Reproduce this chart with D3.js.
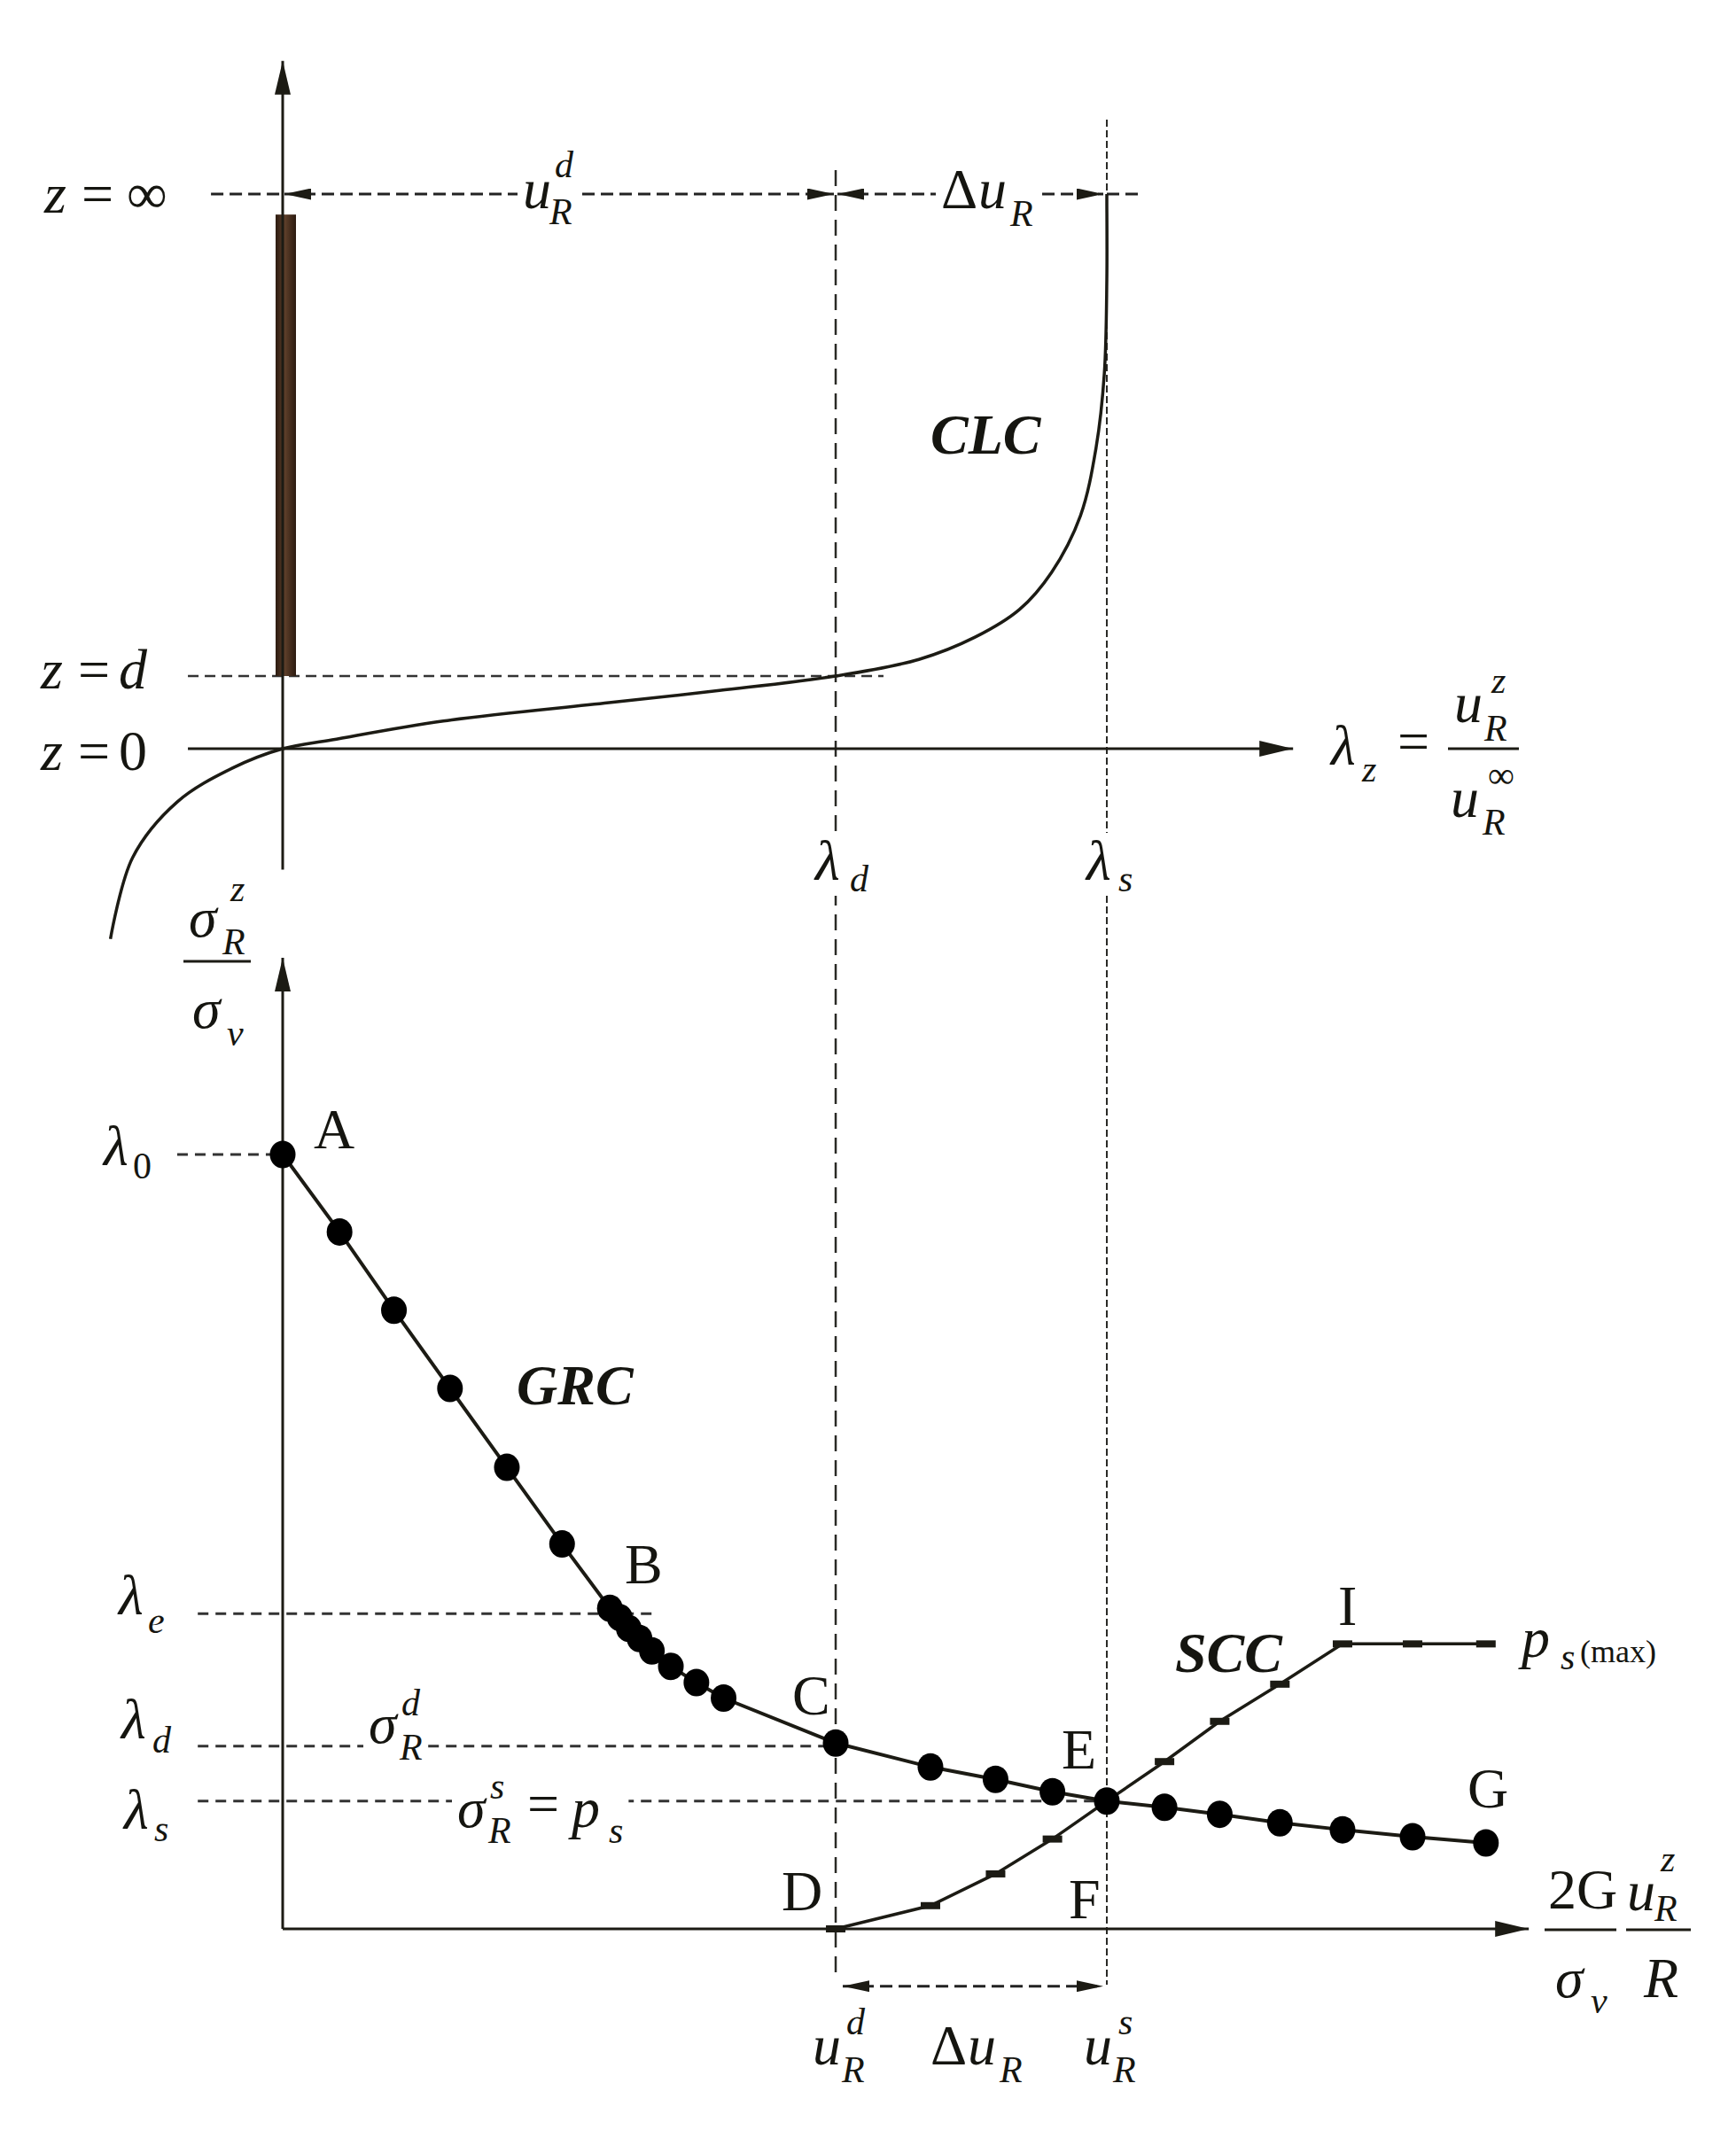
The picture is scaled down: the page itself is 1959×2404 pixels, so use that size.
<!DOCTYPE html>
<html lang="en">
<head>
<meta charset="UTF-8">
<title>CLC - GRC - SCC</title>
<style>
  body { margin: 0; background: #fff; }
  svg { display: block; }
  text { font-family: "Liberation Serif", "Times New Roman", serif; fill: #151510; }
</style>
</head>
<body>
<svg id="chart"></svg>
<script src="https://cdnjs.cloudflare.com/ajax/libs/d3/7.8.5/d3.min.js"></script>
<script>
// ---- values (normalised units) ----
// upper panel: convergence curve, lambda_z against depth z
const clcLambda = [-0.209, -0.182, -0.128, -0.061, 0, 0.060, 0.195, 0.396, 0.530, 0.671, 0.772, 0.840, 0.894, 0.933, 0.968, 0.987, 0.997, 1.0, 1.0, 1.0];
const clcZ      = [-0.343, -0.196, -0.096, -0.035, 0, 0.016, 0.050, 0.083, 0.105, 0.131, 0.161, 0.201, 0.251, 0.318, 0.420, 0.543, 0.677, 0.845, 0.990, 1.0];
const zLevels = [1.0, 0.131, 0];          // z = inf, z = d, z = 0
const zNames = ["∞", "d", "0"];
const lambdaD = 0.671, lambdaS = 1.0;
const linerZ = [0.131, 0.963];            // lining from z = d up to the face

// lower panel: ground reaction curve
const grcX = [0, 0.069, 0.135, 0.203, 0.272, 0.339, 0.397, 0.409, 0.420, 0.433, 0.448, 0.471, 0.502, 0.535, 0.671, 0.786, 0.865, 0.934, 1.0, 1.070, 1.137, 1.210, 1.286, 1.371, 1.460];
const grcY = [1.0, 0.900, 0.799, 0.698, 0.596, 0.497, 0.414, 0.402, 0.388, 0.375, 0.359, 0.339, 0.318, 0.298, 0.240, 0.209, 0.193, 0.177, 0.165, 0.157, 0.148, 0.137, 0.128, 0.119, 0.111];
// support characteristic curve
const sccX = [0.671, 0.786, 0.865, 0.934, 1.0, 1.070, 1.137, 1.210, 1.286, 1.371, 1.460];
const sccY = [0, 0.030, 0.071, 0.116, 0.165, 0.216, 0.268, 0.316, 0.368, 0.368, 0.368];
// stress levels on the left axis: lambda_0, lambda_e, lambda_d, lambda_s
const stressLevels = [1.0, 0.407, 0.236, 0.165];
const stressNames = ["0", "e", "d", "s"];

const W = 1959, H = 2404;
const ink = "#1c1b14";
const svg = d3.select("#chart").attr("width", W).attr("height", H);

const x = d3.scaleLinear().domain([0, 1]).range([319, 1249]);
const zy = d3.scaleLinear().domain([0, 1]).range([845, 219]);
const sy = d3.scaleLinear().domain([0, 1]).range([2177, 1303]);

const defs = svg.append("defs");
function marker(id, len, wid) {
    defs.append("marker").attr("id", id).attr("markerUnits", "userSpaceOnUse")
        .attr("viewBox", `0 0 ${len} ${wid}`).attr("markerWidth", len).attr("markerHeight", wid)
        .attr("refX", len).attr("refY", wid / 2).attr("orient", "auto-start-reverse")
        .append("path").attr("d", `M0,0L${len},${wid / 2}L0,${wid}Z`).attr("fill", ink);
}
marker("axisArrow", 38, 18);
marker("dimArrow", 30, 13);

const grad = defs.append("linearGradient").attr("id", "liner").attr("x1", 0).attr("x2", 1);
grad.append("stop").attr("offset", 0).attr("stop-color", "#2c1b10");
grad.append("stop").attr("offset", 0.45).attr("stop-color", "#5e3f2a");
grad.append("stop").attr("offset", 1).attr("stop-color", "#2c1b10");

function line(x1, y1, x2, y2, dash, w, color) {
    return svg.append("line").attr("x1", x1).attr("y1", y1).attr("x2", x2).attr("y2", y2)
        .attr("stroke", color || ink).attr("stroke-width", w || 2.5)
        .attr("stroke-dasharray", dash || null);
}

// label made of pieces: [x, y, text, size, style]
function label(parts, bg) {
    const g = svg.append("g");
    parts.forEach(p => {
        g.append("text").attr("x", p[0]).attr("y", p[1])
            .attr("font-size", p[3] || 64)
            .attr("font-style", p[4] === "n" || p[4] === "b" ? "normal" : "italic")
            .attr("font-weight", p[4] === "bi" ? "bold" : null)
            .text(p[2]);
    });
    if (bg) {
        const b = g.node().getBBox();
        g.insert("rect", ":first-child").attr("x", b.x - 6).attr("y", b.y + 4)
            .attr("width", b.width + 12).attr("height", b.height - 8).attr("fill", "#fff");
    }
    return g;
}

// ---- vertical guide lines through both panels ----
line(x(lambdaD), zy(1.043), x(lambdaD), sy(-0.06), "18,10", 2.5, "#2a2a26");
line(x(lambdaS), zy(1.134), x(lambdaS), sy(-0.072), "8,4", 2, "#2a2a26");

// ================= upper panel =================
line(x(-0.087), zy(zLevels[0]), x(0), zy(zLevels[0]), "14,7", 3, "#222");
line(x(lambdaS), zy(zLevels[0]), x(1.043), zy(zLevels[0]), "14,7", 3, "#222");
line(x(-0.115), zy(zLevels[1]), x(0.729), zy(zLevels[1]), "12,7", 2.5, "#333");

// dimension arrows on z = inf
line(x(0) + 2, zy(1), x(lambdaD) - 2, zy(1), "14,7", 3, "#222")
    .attr("marker-start", "url(#dimArrow)").attr("marker-end", "url(#dimArrow)");
line(x(lambdaD) + 2, zy(1), x(lambdaS) - 4, zy(1), "14,7", 3, "#222")
    .attr("marker-start", "url(#dimArrow)").attr("marker-end", "url(#dimArrow)");

// lining
svg.append("rect").attr("x", x(0) - 8).attr("width", 23)
    .attr("y", zy(linerZ[1])).attr("height", zy(linerZ[0]) - zy(linerZ[1]))
    .attr("fill", "url(#liner)");

// axes
line(x(0), zy(-0.218), x(0), zy(1.24), null, 3).attr("marker-end", "url(#axisArrow)");
line(x(-0.115), zy(0), x(1.226), zy(0), null, 3).attr("marker-end", "url(#axisArrow)");

const clc = clcLambda.map((l, i) => [l, clcZ[i]]);
svg.append("path").datum(clc)
    .attr("d", d3.line().x(d => x(d[0])).y(d => zy(d[1])).curve(d3.curveCatmullRom))
    .attr("fill", "none").attr("stroke", ink).attr("stroke-width", 3.5);

// labels, upper panel
zLevels.forEach((z, i) => {
    const yb = zy(z) + (i === 0 ? 21 : i === 1 ? 14 : 24);
    const x0 = i === 0 ? 50 : 46;
    label([[x0, yb, "z"], [x0 + 42, yb, "=", 64, "n"], [x0 + (i === 0 ? 93 : 88), yb, zNames[i], 64, i === 1 ? "i" : "n"]]);
});
label([[590, 235, "u"], [626, 200, "d", 42], [620, 253, "R", 42]], true);
label([[1062, 235, "Δ", 64, "n"], [1104, 235, "u"], [1140, 255, "R", 42]], true);
label([[1050, 512, "CLC", 64, "bi"]]);
label([[x(lambdaD) - 23, 993, "λ"], [x(lambdaD) + 16, 1006, "d", 42]], true);
label([[x(lambdaS) - 23, 993, "λ"], [x(lambdaS) + 13, 1006, "s", 42]], true);

label([[1502, 863, "λ"], [1537, 882, "z", 42], [1577, 858, "=", 64, "n"],
       [1641, 815, "u"], [1683, 782, "z", 42], [1675, 836, "R", 42],
       [1637, 922, "u"], [1679, 889, "∞", 42, "n"], [1673, 942, "R", 42]]);
line(1634, 845, 1714, 845, null, 3);

// ================= lower panel =================
line(x(0), sy(0), x(0), sy(1.254), null, 3).attr("marker-end", "url(#axisArrow)");
line(x(0), sy(0), x(1.512), sy(0), null, 3).attr("marker-end", "url(#axisArrow)");

// stress level guides
line(x(-0.128), sy(stressLevels[0]), x(-0.012), sy(stressLevels[0]), "12,8", 3, "#333");
line(x(-0.103), sy(stressLevels[1]), x(0.450), sy(stressLevels[1]), "12,8", 3, "#333");
line(x(-0.103), sy(stressLevels[2]), x(lambdaD), sy(stressLevels[2]), "12,8", 3, "#333");
line(x(-0.103), sy(stressLevels[3]), x(lambdaS), sy(stressLevels[3]), "12,8", 3, "#333");

// support curve
const scc = sccX.map((v, i) => [v, sccY[i]]);
svg.append("path").datum(scc)
    .attr("d", d3.line().x(d => x(d[0])).y(d => sy(d[1])))
    .attr("fill", "none").attr("stroke", ink).attr("stroke-width", 3.5);
svg.selectAll(".tick-scc").data(scc).enter().append("rect")
    .attr("class", "tick-scc")
    .attr("x", d => x(d[0]) - 11).attr("y", d => sy(d[1]) - 4)
    .attr("width", 22).attr("height", 8).attr("fill", ink);

// ground reaction curve
const grc = grcX.map((v, i) => [v, grcY[i]]);
svg.append("path").datum(grc)
    .attr("d", d3.line().x(d => x(d[0])).y(d => sy(d[1])))
    .attr("fill", "none").attr("stroke", ink).attr("stroke-width", 4);
svg.selectAll(".dot").data(grc).enter().append("ellipse")
    .attr("class", "dot")
    .attr("cx", d => x(d[0])).attr("cy", d => sy(d[1]))
    .attr("rx", 14.5).attr("ry", 15.5).attr("fill", "#000");

// bottom dimension arrow
line(x(lambdaD) + 8, sy(-0.074), x(lambdaS) - 4, sy(-0.074), "14,7", 3, "#222")
    .attr("marker-start", "url(#dimArrow)").attr("marker-end", "url(#dimArrow)");

// labels, lower panel
label([[213, 1057, "σ"], [260, 1017, "z", 42], [251, 1077, "R", 42],
       [217, 1160, "σ"], [256, 1180, "v", 42]]);
line(207, 1085, 283, 1085, null, 3);

const lamPos = [[117, 1315, 150, 1330], [134, 1822, 167, 1843], [137, 1962, 172, 1978], [140, 2064, 174, 2078]];
stressNames.forEach((n, i) => {
    const p = lamPos[i];
    label([[p[0], p[1], "λ"], [p[2], p[3], n, 42, n === "0" ? "n" : "i"]]);
});

label([[416, 1967, "σ"], [453, 1936, "d", 42], [451, 1986, "R", 42]], true);
label([[516, 2062, "σ"], [553, 2030, "s", 42], [551, 2080, "R", 42],
       [595, 2057, "=", 64, "n"], [645, 2062, "p"], [687, 2080, "s", 42]], true);

label([[354, 1296, "A", 64, "n"]]);
label([[705, 1787, "B", 64, "n"]]);
label([[894, 1935, "C", 64, "n"]]);
label([[882, 2156, "D", 64, "n"]]);
label([[1198, 1996, "E", 64, "n"]]);
label([[1206, 2165, "F", 64, "n"]]);
label([[1656, 2040, "G", 64, "n"]]);
label([[1510, 1834, "I", 64, "n"]]);

label([[583, 1585, "GRC", 64, "bi"]]);
label([[1326, 1887, "SCC", 64, "bi"]]);
label([[1717, 1870, "p"], [1761, 1884, "s", 42], [1783, 1876, "(max)", 36, "n"]]);

// x-axis quantity
label([[1747, 2154, "2G", 64, "n"], [1755, 2254, "σ"], [1795, 2272, "v", 42],
       [1836, 2156, "u"], [1874, 2112, "z", 42], [1867, 2168, "R", 42],
       [1855, 2254, "R"]]);
line(1743, 2178, 1824, 2178, null, 3);
line(1835, 2178, 1908, 2178, null, 3);

// bottom displacement labels
label([[917, 2330, "u"], [955, 2296, "d", 42], [950, 2350, "R", 42]]);
label([[1050, 2330, "Δ", 64, "n"], [1092, 2330, "u"], [1128, 2350, "R", 42]]);
label([[1223, 2330, "u"], [1262, 2296, "s", 42], [1256, 2350, "R", 42]]);
</script>
</body>
</html>
